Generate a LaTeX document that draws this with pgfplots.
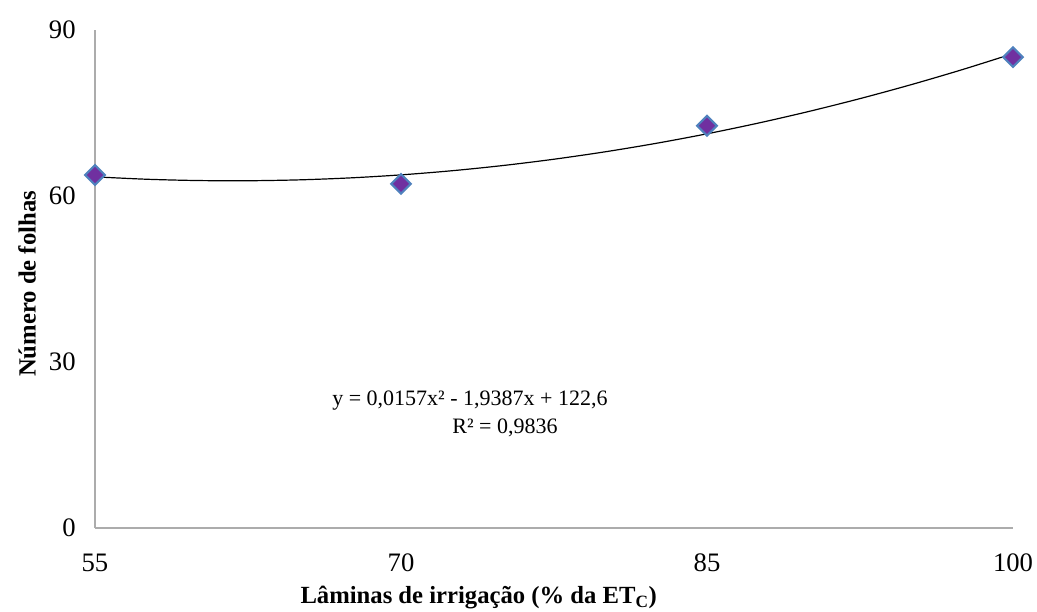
\documentclass[border=0pt]{standalone}
\usepackage{pgfplots}
\pgfplotsset{compat=1.18}
\usepackage{fontspec}
\setmainfont{Liberation Serif}
\definecolor{mkfill}{HTML}{7030A0}
\definecolor{mkdraw}{HTML}{4F81BD}
\begin{document}
\begin{tikzpicture}
\begin{axis}[
  scale only axis,
  width=688.5pt, height=373.5pt,
  at={(0,0)}, anchor=south west,
  xmin=55, xmax=100, ymin=0, ymax=90,
  xtick={55,70,85,100}, ytick={0,30,60,90},
  axis x line*=bottom, axis y line*=left,
  axis line style={draw=gray!65, line width=1.1pt, -},
  major tick length=0pt,
  tick style={draw=none},
  /pgf/number format/assume math mode=true,
  ticklabel style={font=\fontsize{20}{22}\selectfont},
  yticklabel style={xshift=-11pt},
  xticklabel style={yshift=-16pt},
  xlabel={\textbf{Lâminas de irrigação (\% da ET\textsubscript{C})}},
  ylabel={\textbf{Número de folhas}},
  label style={font=\fontsize{18.5}{20}\selectfont},
  xlabel style={at={(axis description cs:0.418,0)}, anchor=center, yshift=-52.5pt},
  ylabel style={at={(axis description cs:0,0.49)}, anchor=center, yshift=51pt},
  clip=false,
]
\addplot[black, line width=0.9pt, smooth] coordinates {
(55,63.464) (57.5,63.033) (60,62.798) (62.5,62.759) (65,62.917) (67.5,63.271)
(70,63.821) (72.5,64.567) (75,65.510) (77.5,66.649) (80,67.984) (82.5,69.515)
(85,71.243) (87.5,73.167) (90,75.287) (92.5,77.603) (95,80.116) (97.5,82.825) (100,85.730)
};
\addplot[only marks, mark=square*, mark size=5.2pt,
  mark options={rotate=45, fill=mkfill, draw=mkdraw, line width=1.6pt}] coordinates {
(55,63.8) (70,62.2) (85,72.7) (100,85.1)
};
\node[font=\fontsize{16.5}{18}\selectfont, anchor=center] at (axis cs:73.38,22.95) {y = 0,0157x² - 1,9387x + 122,6};
\node[font=\fontsize{16.5}{18}\selectfont, anchor=center] at (axis cs:75.1,18.07) {R² = 0,9836};
\end{axis}
\pgfresetboundingbox
\path (-71.25pt,-62.25pt) rectangle (706.5pt,396pt);
\end{tikzpicture}
\end{document}
